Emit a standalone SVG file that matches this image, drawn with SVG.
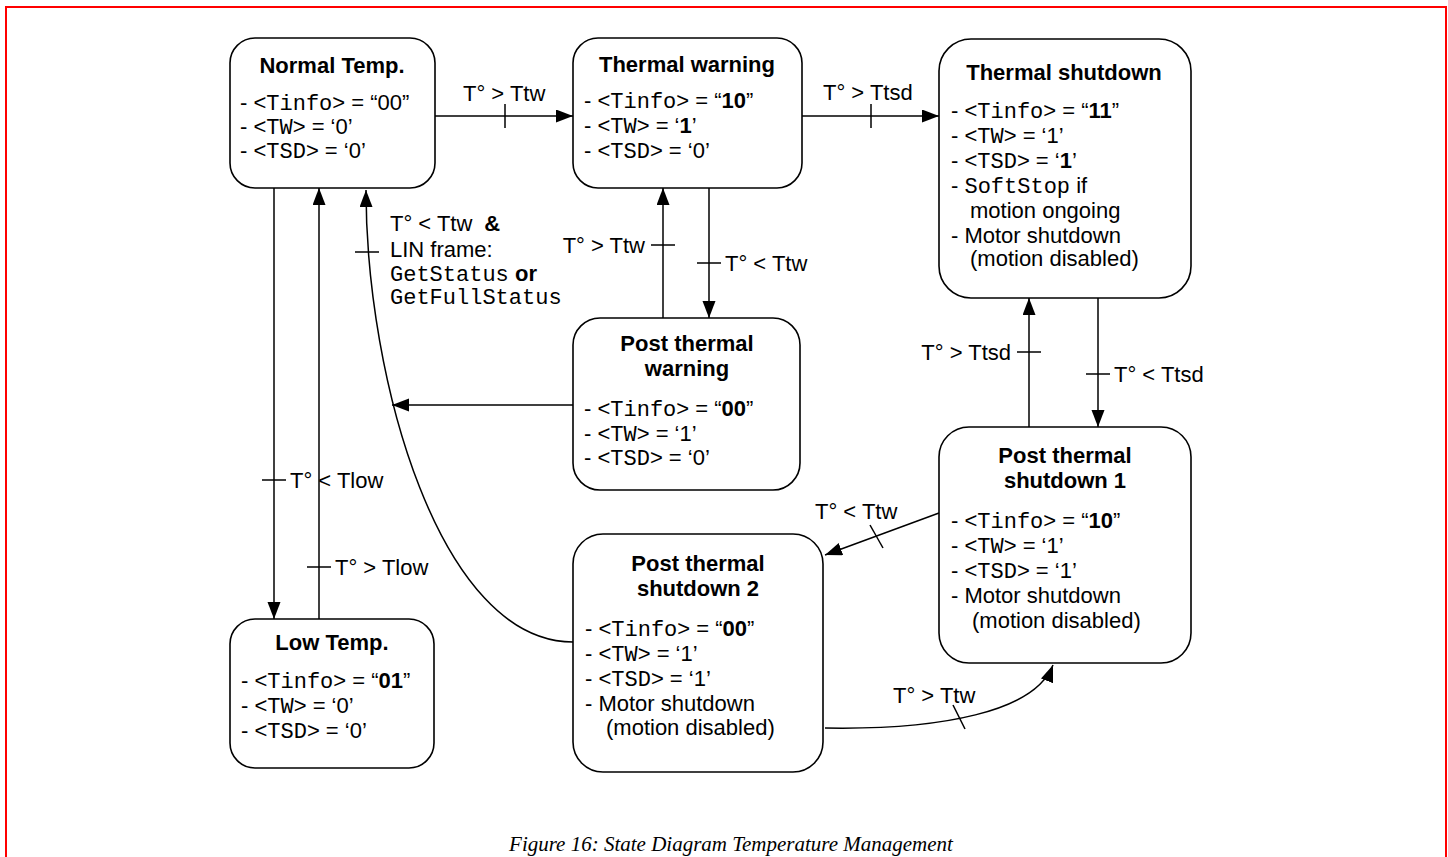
<svg xmlns="http://www.w3.org/2000/svg" width="1448" height="857" viewBox="0 0 1448 857">
<style>
.box{fill:#fff;stroke:#000;stroke-width:1.6}
.t{font-family:"Liberation Sans",Arial,sans-serif;font-size:22px;fill:#000}
.b{font-weight:bold}
.m{font-family:"Liberation Mono","Courier New",monospace;font-weight:normal}
.ti{font-family:"Liberation Sans",Arial,sans-serif;font-size:22px;font-weight:bold;text-anchor:middle;fill:#000}
.c{fill:none;stroke:#000;stroke-width:1.5}
.a{marker-end:url(#ah)}
.cap{font-family:"Liberation Serif","Times New Roman",serif;font-style:italic;font-size:21px;text-anchor:middle;fill:#000}
</style>
<defs>
<marker id="ah" markerUnits="userSpaceOnUse" markerWidth="20" markerHeight="14" refX="17" refY="6.5" orient="auto">
<path d="M0,0 L17,6.5 L0,13 Z" fill="#000"/>
</marker>
</defs>
<rect x="6" y="7" width="1440" height="900" fill="none" stroke="#ff0000" stroke-width="2"/>

<g id="connectors">
<path class="c a" d="M435,116 H573"/>
<path class="c" d="M505,104 V128"/>
<text class="t" x="463" y="101">T° &gt; Ttw</text>

<path class="c a" d="M802,116 H939"/>
<path class="c" d="M871,104 V128"/>
<text class="t" x="823" y="100">T° &gt; Ttsd</text>

<path class="c a" d="M709,188 V318"/>
<path class="c" d="M697,263 H721"/>
<text class="t" x="725" y="271">T° &lt; Ttw</text>

<path class="c a" d="M663,318 V188"/>
<path class="c" d="M651,245 H675"/>
<text class="t" x="645" y="253" text-anchor="end">T° &gt; Ttw</text>

<path class="c a" d="M573,405 H392"/>

<path class="c a" d="M573,642 C440,642 366,380 366,190"/>
<path class="c" d="M355,252 H379"/>
<text class="t" x="390" y="231">T° &lt; Ttw<tspan class="b" dx="12">&amp;</tspan></text>
<text class="t" x="390" y="257">LIN frame:</text>
<text class="t" x="390" y="281"><tspan class="m">GetStatus</tspan> <tspan class="b">or</tspan></text>
<text class="t" x="390" y="304"><tspan class="m">GetFullStatus</tspan></text>

<path class="c a" d="M274,188 V619"/>
<path class="c" d="M262,480 H286"/>
<text class="t" x="290" y="488">T° &lt; Tlow</text>

<path class="c a" d="M319,619 V188"/>
<path class="c" d="M307,567 H331"/>
<text class="t" x="335" y="575">T° &gt; Tlow</text>

<path class="c a" d="M1098,298 V427"/>
<path class="c" d="M1086,374 H1110"/>
<text class="t" x="1114" y="382">T° &lt; Ttsd</text>

<path class="c a" d="M1029,427 V298"/>
<path class="c" d="M1017,352 H1041"/>
<text class="t" x="1011" y="360" text-anchor="end">T° &gt; Ttsd</text>

<path class="c a" d="M939,513 L825,555"/>
<path class="c" d="M870,525 L883,548"/>
<text class="t" x="815" y="519">T° &lt; Ttw</text>

<path class="c a" d="M825,728 C940,730 1035,712 1053,665"/>
<path class="c" d="M953,705 L965,729"/>
<text class="t" x="893" y="703">T° &gt; Ttw</text>
</g>

<g id="normal">
<rect class="box" x="230" y="38" width="205" height="150" rx="25"/>
<text class="ti" x="332" y="73">Normal Temp.</text>
<text class="t" x="240" y="110">- &lt;<tspan class="m">Tinfo</tspan>&gt; = “00”</text>
<text class="t" x="240" y="134">- &lt;<tspan class="m">TW</tspan>&gt; = ‘0’</text>
<text class="t" x="240" y="158">- &lt;<tspan class="m">TSD</tspan>&gt; = ‘0’</text>
</g>

<g id="thermal-warning">
<rect class="box" x="573" y="38" width="229" height="150" rx="25"/>
<text class="ti" x="687" y="72">Thermal warning</text>
<text class="t" x="584" y="108">- &lt;<tspan class="m">Tinfo</tspan>&gt; = “<tspan class="b">10</tspan>”</text>
<text class="t" x="584" y="133">- &lt;<tspan class="m">TW</tspan>&gt; = ‘<tspan class="b">1</tspan>’</text>
<text class="t" x="584" y="158">- &lt;<tspan class="m">TSD</tspan>&gt; = ‘0’</text>
</g>

<g id="thermal-shutdown">
<rect class="box" x="939" y="39" width="252" height="259" rx="32"/>
<text class="ti" x="1064" y="80">Thermal shutdown</text>
<text class="t" x="951" y="118">- &lt;<tspan class="m">Tinfo</tspan>&gt; = “<tspan class="b">11</tspan>”</text>
<text class="t" x="951" y="143">- &lt;<tspan class="m">TW</tspan>&gt; = ‘1’</text>
<text class="t" x="951" y="168">- &lt;<tspan class="m">TSD</tspan>&gt; = ‘<tspan class="b">1</tspan>’</text>
<text class="t" x="951" y="193">- <tspan class="m">SoftStop</tspan> if</text>
<text class="t" x="970" y="218">motion ongoing</text>
<text class="t" x="951" y="243">- Motor shutdown</text>
<text class="t" x="970" y="266">(motion disabled)</text>
</g>

<g id="post-thermal-warning">
<rect class="box" x="573" y="318" width="227" height="172" rx="27"/>
<text class="ti" x="687" y="351">Post thermal</text>
<text class="ti" x="687" y="376">warning</text>
<text class="t" x="584" y="416">- &lt;<tspan class="m">Tinfo</tspan>&gt; = “<tspan class="b">00</tspan>”</text>
<text class="t" x="584" y="441">- &lt;<tspan class="m">TW</tspan>&gt; = ‘1’</text>
<text class="t" x="584" y="465">- &lt;<tspan class="m">TSD</tspan>&gt; = ‘0’</text>
</g>

<g id="post-thermal-shutdown-1">
<rect class="box" x="939" y="427" width="252" height="236" rx="30"/>
<text class="ti" x="1065" y="463">Post thermal</text>
<text class="ti" x="1065" y="488">shutdown 1</text>
<text class="t" x="951" y="528">- &lt;<tspan class="m">Tinfo</tspan>&gt; = “<tspan class="b">10</tspan>”</text>
<text class="t" x="951" y="553">- &lt;<tspan class="m">TW</tspan>&gt; = ‘1’</text>
<text class="t" x="951" y="578">- &lt;<tspan class="m">TSD</tspan>&gt; = ‘1’</text>
<text class="t" x="951" y="603">- Motor shutdown</text>
<text class="t" x="972" y="628">(motion disabled)</text>
</g>

<g id="post-thermal-shutdown-2">
<rect class="box" x="573" y="534" width="250" height="238" rx="30"/>
<text class="ti" x="698" y="571">Post thermal</text>
<text class="ti" x="698" y="596">shutdown 2</text>
<text class="t" x="585" y="636">- &lt;<tspan class="m">Tinfo</tspan>&gt; = “<tspan class="b">00</tspan>”</text>
<text class="t" x="585" y="661">- &lt;<tspan class="m">TW</tspan>&gt; = ‘1’</text>
<text class="t" x="585" y="686">- &lt;<tspan class="m">TSD</tspan>&gt; = ‘1’</text>
<text class="t" x="585" y="711">- Motor shutdown</text>
<text class="t" x="606" y="735">(motion disabled)</text>
</g>

<g id="low">
<rect class="box" x="230" y="619" width="204" height="149" rx="25"/>
<text class="ti" x="332" y="650">Low Temp.</text>
<text class="t" x="241" y="688">- &lt;<tspan class="m">Tinfo</tspan>&gt; = “<tspan class="b">01</tspan>”</text>
<text class="t" x="241" y="713">- &lt;<tspan class="m">TW</tspan>&gt; = ‘0’</text>
<text class="t" x="241" y="738">- &lt;<tspan class="m">TSD</tspan>&gt; = ‘0’</text>
</g>

<text class="cap" x="731" y="851">Figure 16: State Diagram Temperature Management</text>
</svg>
